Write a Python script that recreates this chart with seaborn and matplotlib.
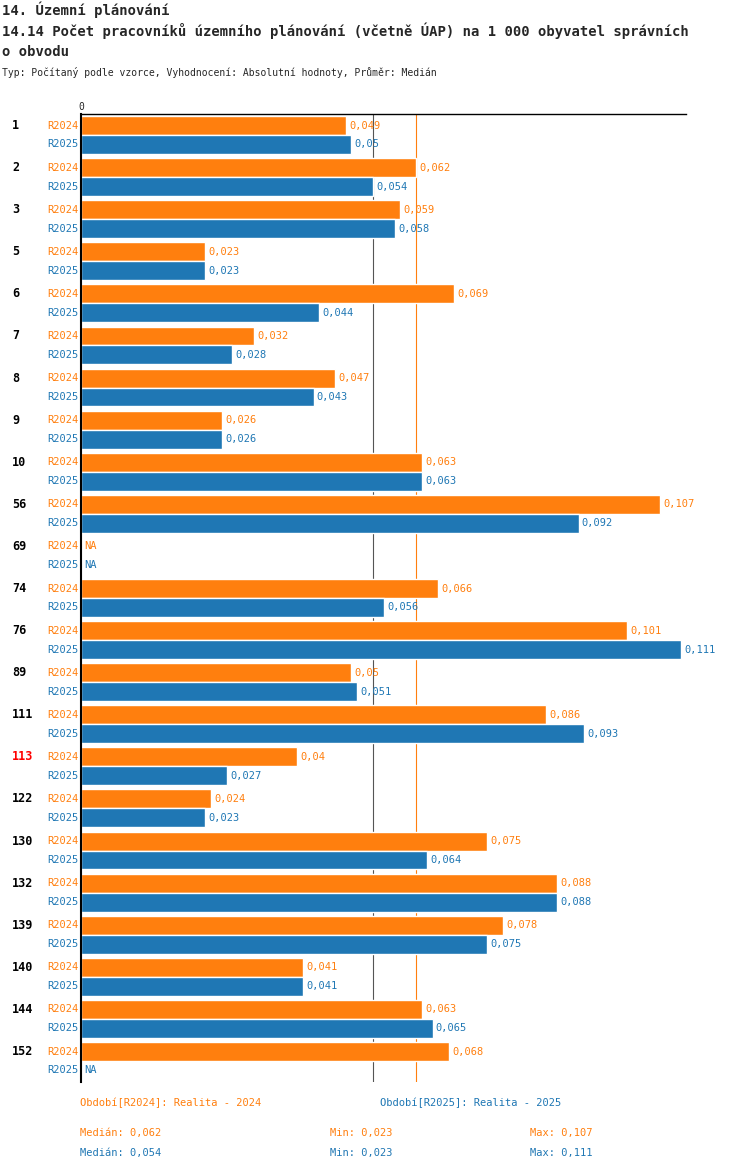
import matplotlib
matplotlib.use("Agg")
import matplotlib.pyplot as plt
import matplotlib.transforms as mtransforms
import numpy as np
import pandas as pd
import seaborn as sns

groups = ["1", "2", "3", "5", "6", "7", "8", "9", "10", "56", "69", "74", "76", "89",
          "111", "113", "122", "130", "132", "139", "140", "144", "152"]
r2024 = [0.049, 0.062, 0.059, 0.023, 0.069, 0.032, 0.047, 0.026, 0.063, 0.107, np.nan,
         0.066, 0.101, 0.05, 0.086, 0.04, 0.024, 0.075, 0.088, 0.078, 0.041, 0.063, 0.068]
r2025 = [0.05, 0.054, 0.058, 0.023, 0.044, 0.028, 0.043, 0.026, 0.063, 0.092, np.nan,
         0.056, 0.111, 0.051, 0.093, 0.027, 0.023, 0.064, 0.088, 0.075, 0.041, 0.065, np.nan]
periods = ["R2024", "R2025"]
median_2024, median_2025 = 0.062, 0.054
highlight = "113"

ORANGE = "#ff7f0e"
BLUE = "#1f77b4"
MONO = "DejaVu Sans Mono"

sns.set_theme(style="white")
plt.rcParams["font.family"] = [MONO]

df = pd.DataFrame({
    "group": groups * 2,
    "period": ["R2024"] * len(groups) + ["R2025"] * len(groups),
    "value": r2024 + r2025,
})

fig = plt.figure(figsize=(7.5, 11.7), dpi=100)
ax = fig.add_axes([0.108, 0.0752, 0.807, 0.8274])
sns.barplot(data=df, y="group", x="value", hue="period", orient="h",
            palette=[ORANGE, BLUE], width=0.9, saturation=1, legend=False, ax=ax)
ax.set_xlim(0, 0.1119)
ax.set_ylim(len(groups) - 0.5, -0.5)
ax.axvline(median_2025, color="#555555", lw=0.8, zorder=0)
ax.axvline(median_2024, color=ORANGE, lw=0.8, zorder=0)
for s in ["right", "bottom"]:
    ax.spines[s].set_visible(False)
ax.spines["left"].set_color("black")
ax.spines["left"].set_linewidth(1.5)
ax.spines["top"].set_color("black")
ax.spines["top"].set_linewidth(1)
ax.set_xticks([])
ax.set_yticks([])
ax.set_xlabel("")
ax.set_ylabel("")
ax.text(0, -0.55, "0", ha="center", va="bottom", fontsize=7, family=MONO)

fig_x = mtransforms.blended_transform_factory(fig.transFigure, ax.transData)
off = 0.225
for i, g in enumerate(groups):
    ax.text(12 / 750, i - off, g, transform=fig_x, ha="left", va="center",
            fontsize=8.5, fontweight="bold",
            color="red" if g == highlight else "black")
    for vals, d, col, per in [(r2024, -off, ORANGE, "R2024"), (r2025, off, BLUE, "R2025")]:
        ax.text(78 / 750, i + d, per, transform=fig_x, ha="right", va="center",
                fontsize=7.5, color=col)
        v = vals[i]
        if np.isnan(v):
            ax.text(0.0006, i + d, "NA", ha="left", va="center", fontsize=7.5, color=col)
        else:
            ax.text(v + 0.0006, i + d, f"{v:g}".replace(".", ","), ha="left",
                    va="center", fontsize=7.5, color=col)

fig.text(2 / 750, 1 - 10 / 1170, "14. Územní plánování", fontsize=10, fontweight="bold", va="center")
fig.text(2 / 750, 1 - 31 / 1170,
         "14.14 Počet pracovníků územního plánování (včetně ÚAP) na 1 000 obyvatel správních",
         fontsize=10, fontweight="bold", va="center")
fig.text(2 / 750, 1 - 52 / 1170, "o obvodu", fontsize=10, fontweight="bold", va="center")
fig.text(2 / 750, 1 - 73 / 1170,
         "Typ: Počítaný podle vzorce, Vyhodnocení: Absolutní hodnoty, Průměr: Medián",
         fontsize=7, va="center")

fig.text(80 / 750, 1 - 1103 / 1170, "Období[R2024]: Realita - 2024", fontsize=7.5, color=ORANGE, va="center")
fig.text(380 / 750, 1 - 1103 / 1170, "Období[R2025]: Realita - 2025", fontsize=7.5, color=BLUE, va="center")
for y, col, vals, med in [(1133, ORANGE, r2024, median_2024), (1153, BLUE, r2025, median_2025)]:
    arr = np.array(vals)
    fig.text(80 / 750, 1 - y / 1170, f"Medián: {med:g}".replace(".", ","), fontsize=7.5, color=col, va="center")
    fig.text(330 / 750, 1 - y / 1170, f"Min: {np.nanmin(arr):g}".replace(".", ","), fontsize=7.5, color=col, va="center")
    fig.text(530 / 750, 1 - y / 1170, f"Max: {np.nanmax(arr):g}".replace(".", ","), fontsize=7.5, color=col, va="center")

fig.savefig("out.png", dpi=100)
